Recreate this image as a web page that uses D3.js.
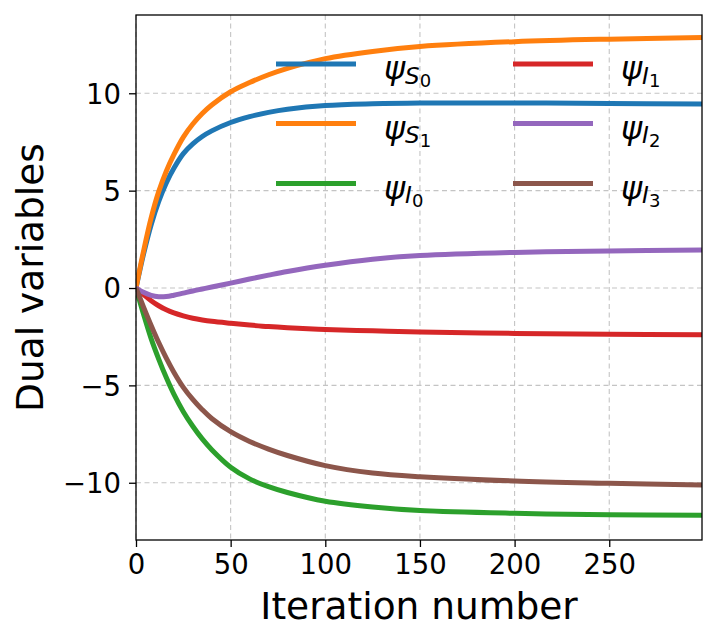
<!DOCTYPE html>
<html>
<head>
<meta charset="utf-8">
<script src="https://cdn.jsdelivr.net/npm/d3@7"></script>
<style>
  body { margin: 0; background: #fff; }
  svg { font-family: "DejaVu Sans", sans-serif; }
</style>
</head>
<body>
<div id="chart"></div>
<script>
// iteration samples
var iterations = [0, 4, 8, 12, 16, 20, 25, 30, 35, 40, 50, 60, 70, 80, 100, 125, 150, 200, 250, 299];

var psiS0 = [0, 1.75, 3.25, 4.45, 5.4, 6.15, 6.9, 7.4, 7.78, 8.07, 8.5, 8.8, 9.02, 9.18, 9.37, 9.46, 9.5, 9.5, 9.48, 9.45];
var psiS1 = [0, 1.9, 3.6, 4.95, 6.0, 6.85, 7.75, 8.42, 8.96, 9.4, 10.08, 10.55, 10.95, 11.28, 11.78, 12.15, 12.4, 12.65, 12.78, 12.86];
var psiI0 = [0, -1.35, -2.6, -3.65, -4.6, -5.45, -6.35, -7.1, -7.75, -8.3, -9.2, -9.8, -10.2, -10.5, -10.95, -11.25, -11.43, -11.57, -11.64, -11.67];
var psiI1 = [0, -0.34, -0.65, -0.91, -1.12, -1.28, -1.43, -1.55, -1.64, -1.71, -1.81, -1.9, -1.98, -2.04, -2.13, -2.2, -2.26, -2.33, -2.37, -2.40];
var psiI2 = [0, -0.22, -0.38, -0.45, -0.44, -0.37, -0.26, -0.15, -0.05, 0.05, 0.25, 0.46, 0.66, 0.85, 1.17, 1.48, 1.67, 1.83, 1.9, 1.95];
var psiI3 = [0, -0.98, -1.92, -2.8, -3.6, -4.32, -5.1, -5.72, -6.25, -6.7, -7.38, -7.88, -8.27, -8.6, -9.12, -9.5, -9.69, -9.91, -10.03, -10.12];

// legend labels: subscript letter, subscript digit
var seriesNames = [["S", "0"], ["S", "1"], ["I", "0"], ["I", "1"], ["I", "2"], ["I", "3"]];
var seriesValues = [psiS0, psiS1, psiI0, psiI1, psiI2, psiI3];
var colors = ["#1f77b4", "#ff7f0e", "#2ca02c", "#d62728", "#9467bd", "#8c564b"];

var xTicks = [0, 50, 100, 150, 200, 250];
var yTicks = [-10, -5, 0, 5, 10];

var margin = {top: 15, right: 16, bottom: 103, left: 136};
var width = 718 - margin.left - margin.right,
    height = 643 - margin.top - margin.bottom;

var svg = d3.select("#chart").append("svg")
    .attr("width", 718)
    .attr("height", 643)
    .append("g")
    .attr("transform", "translate(" + margin.left + "," + margin.top + ")");

var x = d3.scaleLinear().domain([0, 299]).range([0, width]);
var y = d3.scaleLinear().domain([-12.94, 14.02]).range([height, 0]);

// grid
svg.append("g").selectAll("line")
    .data(xTicks)
    .enter().append("line")
    .attr("x1", function(d) { return x(d); })
    .attr("x2", function(d) { return x(d); })
    .attr("y1", 0).attr("y2", height)
    .attr("stroke", "#c4c4c4").attr("stroke-width", 1.1)
    .attr("stroke-dasharray", "5,3.5");
svg.append("g").selectAll("line")
    .data(yTicks)
    .enter().append("line")
    .attr("x1", 0).attr("x2", width)
    .attr("y1", function(d) { return y(d); })
    .attr("y2", function(d) { return y(d); })
    .attr("stroke", "#c4c4c4").attr("stroke-width", 1.1)
    .attr("stroke-dasharray", "5,3.5");

// lines
var line = d3.line()
    .x(function(d) { return x(d[0]); })
    .y(function(d) { return y(d[1]); })
    .curve(d3.curveCatmullRom.alpha(0.5));

svg.append("defs").append("clipPath").attr("id", "clip")
    .append("rect").attr("width", width).attr("height", height);

svg.append("g").attr("clip-path", "url(#clip)")
    .selectAll("path")
    .data(seriesValues)
    .enter().append("path")
    .attr("fill", "none")
    .attr("stroke", function(d, i) { return colors[i]; })
    .attr("stroke-width", 5)
    .attr("d", function(vals) {
        return line(iterations.map(function(it, j) { return [it, vals[j]]; }));
    });

// axes
var fmt = function(d) { return d < 0 ? "\u2212" + Math.abs(d) : String(d); };

var xAxis = svg.append("g")
    .attr("transform", "translate(0," + height + ")")
    .call(d3.axisBottom(x).tickValues(xTicks).tickSize(7).tickPadding(7).tickFormat(fmt));
var yAxis = svg.append("g")
    .call(d3.axisLeft(y).tickValues(yTicks).tickSize(7).tickPadding(8).tickFormat(fmt));

[xAxis, yAxis].forEach(function(a) {
    a.select(".domain").remove();
    a.selectAll(".tick line").attr("stroke", "#000").attr("stroke-width", 1.3);
    a.selectAll(".tick text").attr("font-size", 27.5).attr("fill", "#000")
        .attr("font-family", "DejaVu Sans");
});
yAxis.selectAll(".tick text").attr("dy", "0.36em");

// frame
svg.append("rect")
    .attr("width", width).attr("height", height)
    .attr("fill", "none").attr("stroke", "#000").attr("stroke-width", 1.3);

// axis labels
svg.append("text")
    .attr("x", width / 2).attr("y", 604)
    .attr("text-anchor", "middle")
    .attr("font-size", 37.5)
    .text("Iteration number");

svg.append("text")
    .attr("transform", "translate(-93," + (height / 2) + ") rotate(-90)")
    .attr("text-anchor", "middle")
    .attr("font-size", 37.5)
    .text("Dual variables");

// legend
var legendCols = [140, 377];
var legendRows = [49, 108.5, 168.5];

var legend = svg.append("g");
seriesNames.forEach(function(name, i) {
    var col = Math.floor(i / 3), row = i % 3;
    var lx = legendCols[col], ly = legendRows[row];
    legend.append("line")
        .attr("x1", lx).attr("x2", lx + 80)
        .attr("y1", ly).attr("y2", ly)
        .attr("stroke", colors[i]).attr("stroke-width", 5);
    var t = legend.append("text")
        .attr("x", lx + 108).attr("y", ly + 15);
    t.append("tspan").attr("font-size", 32).attr("font-style", "italic").text("\u03c8");
    t.append("tspan").attr("font-size", 23).attr("font-style", "italic")
        .attr("dy", 4.5).text(name[0]);
    t.append("tspan").attr("font-size", 18)
        .attr("dy", 3.5).text(name[1]);
});
</script>
</body>
</html>
